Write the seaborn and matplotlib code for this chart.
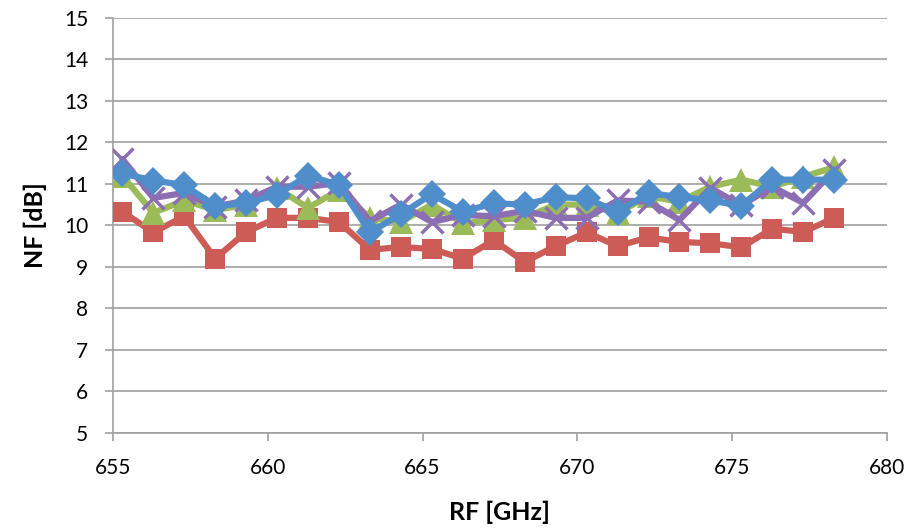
import numpy as np
import pandas as pd
import seaborn as sns
import matplotlib.pyplot as plt

# RF frequency points [GHz]
freq = [655.3, 656.3, 657.3, 658.3, 659.3, 660.3, 661.3, 662.3, 663.3, 664.3, 665.3, 666.3,
        667.3, 668.3, 669.3, 670.3, 671.3, 672.3, 673.3, 674.3, 675.3, 676.3, 677.3, 678.3]

# Noise figure [dB] per series
nf_red = [10.33, 9.83, 10.22, 9.2, 9.84, 10.18, 10.18, 10.08, 9.41, 9.48, 9.43, 9.2,
          9.64, 9.12, 9.5, 9.83, 9.5, 9.71, 9.6, 9.57, 9.47, 9.92, 9.84, 10.18]
nf_green = [11.2, 10.3, 10.6, 10.37, 10.5, 10.9, 10.42, 10.85, 10.18, 10.08, 10.5, 10.05,
            10.13, 10.18, 10.5, 10.5, 10.3, 10.7, 10.57, 10.93, 11.1, 10.93, 11.17, 11.4]
nf_purple = [11.6, 10.66, 10.78, 10.45, 10.6, 10.93, 10.93, 11.02, 10.1, 10.5, 10.08, 10.25,
             10.22, 10.35, 10.18, 10.18, 10.6, 10.57, 10.13, 10.9, 10.48, 10.93, 10.54, 11.33]
nf_blue = [11.25, 11.08, 10.97, 10.47, 10.53, 10.74, 11.2, 10.97, 9.83, 10.27, 10.75, 10.33,
           10.53, 10.5, 10.68, 10.65, 10.32, 10.78, 10.68, 10.6, 10.47, 11.1, 11.1, 11.1]

series = [
    (nf_red, "#CD5C57", "s", 15, 0),
    (nf_green, "#9BBB59", "^", 17, 0),
    (nf_purple, "#8C6FB3", "x", 16, 2.5),
    (nf_blue, "#4F8DCB", "D", 14, 0),
]

sns.set_style("white")
plt.rcParams["font.family"] = ["Lato", "DejaVu Sans"]

fig = plt.figure(figsize=(9.19, 5.29), dpi=100)
ax = fig.add_axes([0.123, 0.1815, 0.842, 0.785])

for vals, col, mk, ms, mew in series:
    sns.lineplot(x=freq, y=vals, ax=ax, color=col, linewidth=4.5, marker=mk,
                 markersize=ms, markeredgewidth=mew, markeredgecolor=col,
                 markerfacecolor=col, zorder=3)

ax.set_xlim(655, 680)
ax.set_ylim(5, 15)
ax.set_xticks(np.arange(655, 681, 5))
ax.set_yticks(np.arange(5, 16, 1))
ax.grid(axis="y", color="#A0A0A0", linewidth=1.2)
ax.set_axisbelow(True)
for s in ["top", "right"]:
    ax.spines[s].set_visible(False)
for s in ["left", "bottom"]:
    ax.spines[s].set_color("#A0A0A0")
    ax.spines[s].set_linewidth(1.2)
ax.tick_params(axis="both", direction="out", length=6, width=1.2, color="#A0A0A0",
               labelsize=15, labelcolor="black", left=True, bottom=True)
ax.tick_params(axis="y", pad=12)
ax.tick_params(axis="x", pad=12)
ax.set_xlabel("RF [GHz]", fontsize=18, fontweight="bold", color="black", labelpad=16)
ax.set_ylabel("NF [dB]", fontsize=18, fontweight="bold", color="black", labelpad=12)

fig.savefig("out.png", dpi=100)
